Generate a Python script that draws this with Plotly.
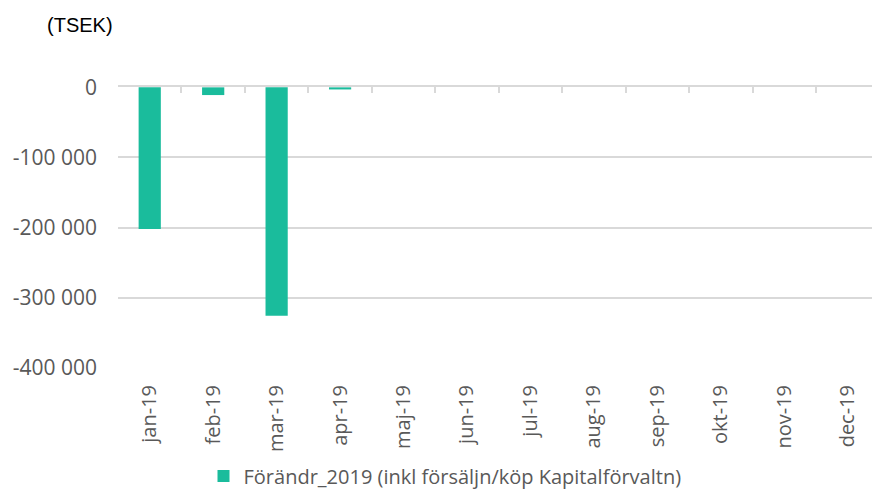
import plotly.graph_objects as go

months = ["jan-19", "feb-19", "mar-19", "apr-19", "maj-19", "jun-19",
          "jul-19", "aug-19", "sep-19", "okt-19", "nov-19", "dec-19"]
values = [-202000, -11000, -326000, -3000, None, None, None, None, None, None, None, None]
series_name = "Förändr_2019 (inkl försäljn/köp Kapitalförvaltn)"
y_tickvals = [0, -100000, -200000, -300000, -400000]
y_ticktext = ["0", "-100 000", "-200 000", "-300 000", "-400 000"]
unit_label = "(TSEK)"

W, H = 872, 489
left, top, bottom = 118, 86.6, 120.6
n = len(months)
cat_px = 63.45
x_max = (W - left) / cat_px - 0.5

fig = go.Figure()
fig.add_trace(go.Bar(
    x=list(range(n)), y=values, name=series_name,
    marker=dict(color="#1ABC9C", line=dict(width=0)),
    showlegend=True,
))
fig.add_trace(go.Scatter(x=[0], y=[None], xaxis="x2", yaxis="y",
                         showlegend=False, hoverinfo="skip", mode="markers"))

fig.update_layout(
    width=W, height=H,
    margin=dict(l=left, r=0, t=top, b=bottom, pad=0, autoexpand=False),
    paper_bgcolor="white", plot_bgcolor="white",
    bargap=0.65,
    xaxis=dict(
        range=[-0.5, x_max], tickmode="array", tickvals=list(range(n)), ticktext=months,
        tickangle=-90, tickfont=dict(family="Open Sans", size=20, color="#595959"),
        showgrid=False, zeroline=False, automargin=False,
        showline=False, ticks="", ticklabelstandoff=12,
    ),
    xaxis2=dict(
        range=[-0.5, x_max], overlaying="x", side="top", anchor="y", automargin=False,
        tickmode="array", tickvals=[i - 0.5 for i in range(n + 1)],
        showticklabels=False, ticks="inside", ticklen=6, tickcolor="#d9d9d9", tickwidth=1.5,
        showline=True, linecolor="#d9d9d9", linewidth=1.5, showgrid=False, zeroline=False,
    ),
    yaxis=dict(
        range=[-400500, 500], tickmode="array", tickvals=y_tickvals, ticktext=y_ticktext,
        tickfont=dict(family="Open Sans", size=21, color="#595959"),
        showgrid=True, gridcolor="#d9d9d9", gridwidth=1.5, automargin=False,
        zeroline=False, showline=False, ticks="", ticklabelstandoff=20,
    ),
    legend=dict(
        orientation="h", xref="container", yref="container",
        x=445 / W, y=1 - 476 / H, xanchor="center", yanchor="middle",
        font=dict(family="Open Sans", size=20, color="#595959"),
        bgcolor="rgba(0,0,0,0)",
    ),
    annotations=[dict(
        text=unit_label, xref="paper", yref="paper",
        x=-(left - 45) / (W - left), y=1 + (top - 24) / (H - top - bottom),
        xanchor="left", yanchor="middle", showarrow=False,
        font=dict(family="Liberation Sans", size=20, color="#000000"),
    )],
)

fig.write_html(
    "out.html",
    config={"displayModeBar": False},
    post_script="document.body.style.margin='0px';document.body.style.overflow='hidden';",
)
